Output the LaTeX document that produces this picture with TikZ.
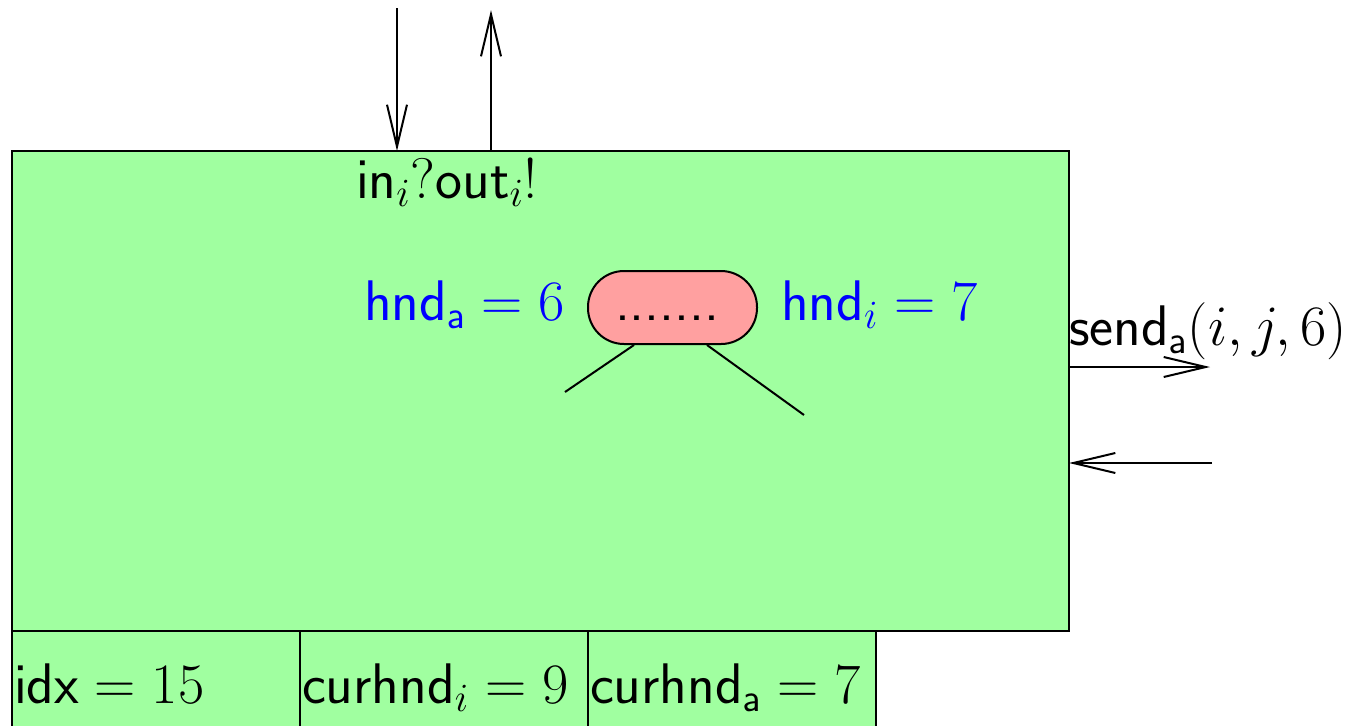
\documentclass[tikz,border=0pt]{standalone}
\usepackage{fix-cm}
\usetikzlibrary{arrows.meta}
\definecolor{procgreen}{RGB}{160,255,160}
\definecolor{actpink}{RGB}{255,160,160}
\begin{document}
\begin{tikzpicture}[x=0.5pt,y=-0.5pt, line width=1pt,
  box/.style={draw=black, fill=procgreen, inner sep=0pt, outer sep=0pt},
  lbl/.style={inner sep=0pt, anchor=base west, font=\sffamily\fontsize{28.6}{34}\selectfont},
  tip/.style={-{Straight Barb[length=21pt,width=10pt]}}]
\useasboundingbox (0,0) rectangle (1345,725);
% main process box
\node[box, minimum width=528.5pt, minimum height=240pt] (proc) at (540.5,391) {};
% bottom cells
\node[box, minimum width=144pt, minimum height=50pt, anchor=north west] (c1) at (12,631) {};
\node[box, minimum width=144pt, minimum height=50pt, anchor=north west] (c2) at (c1.north east) {};
\node[box, minimum width=144pt, minimum height=50pt, anchor=north west] (c3) at (c2.north east) {};
% channel arrows on top
\coordinate (inTop) at (397,8);
\coordinate (outTop) at (491,10);
\draw[tip] (inTop) -- (inTop |- proc.north);
\draw[tip] (outTop |- proc.north) -- (outTop);
% arrows on the right
\coordinate (sendEnd) at (1210,367);
\coordinate (recvStart) at (1212,463);
\draw[tip] (proc.east |- sendEnd) -- (sendEnd);
\draw[tip] (recvStart) -- (proc.east |- recvStart);
% activity node
\node[draw=black, fill=actpink, rounded corners=18pt, minimum width=84.5pt, minimum height=36.5pt, inner sep=0pt] (act) at (672.5,307.5) {};
\node[lbl] (dots) at (614,320) {.......};
\coordinate (leafL) at (565,392);
\coordinate (leafR) at (804,415);
\draw (act.south west) ++(47,0) -- (leafL);
\draw (act.south west) ++(120,0) -- (leafR);
% labels
\node[lbl] (chan) at (355,198) {$\mathsf{in}_i?\mathsf{out}_i!$};
\node[lbl, text=blue] (hnda) at (363,320) {$\mathsf{hnd}_\mathsf{a}=6$};
\node[lbl, text=blue] (hndi) at (780,320) {$\mathsf{hnd}_i=7$};
\node[lbl] (send) at (1068,345) {$\mathsf{send}_\mathsf{a}(i,j,6)$};
\node[lbl] (idx) at (13,703) {$\mathsf{idx}=15$};
\node[lbl] (cur1) at (301,703) {$\mathsf{curhnd}_i=9$};
\node[lbl] (cur2) at (589,703) {$\mathsf{curhnd}_\mathsf{a}=7$};
\end{tikzpicture}
\end{document}
